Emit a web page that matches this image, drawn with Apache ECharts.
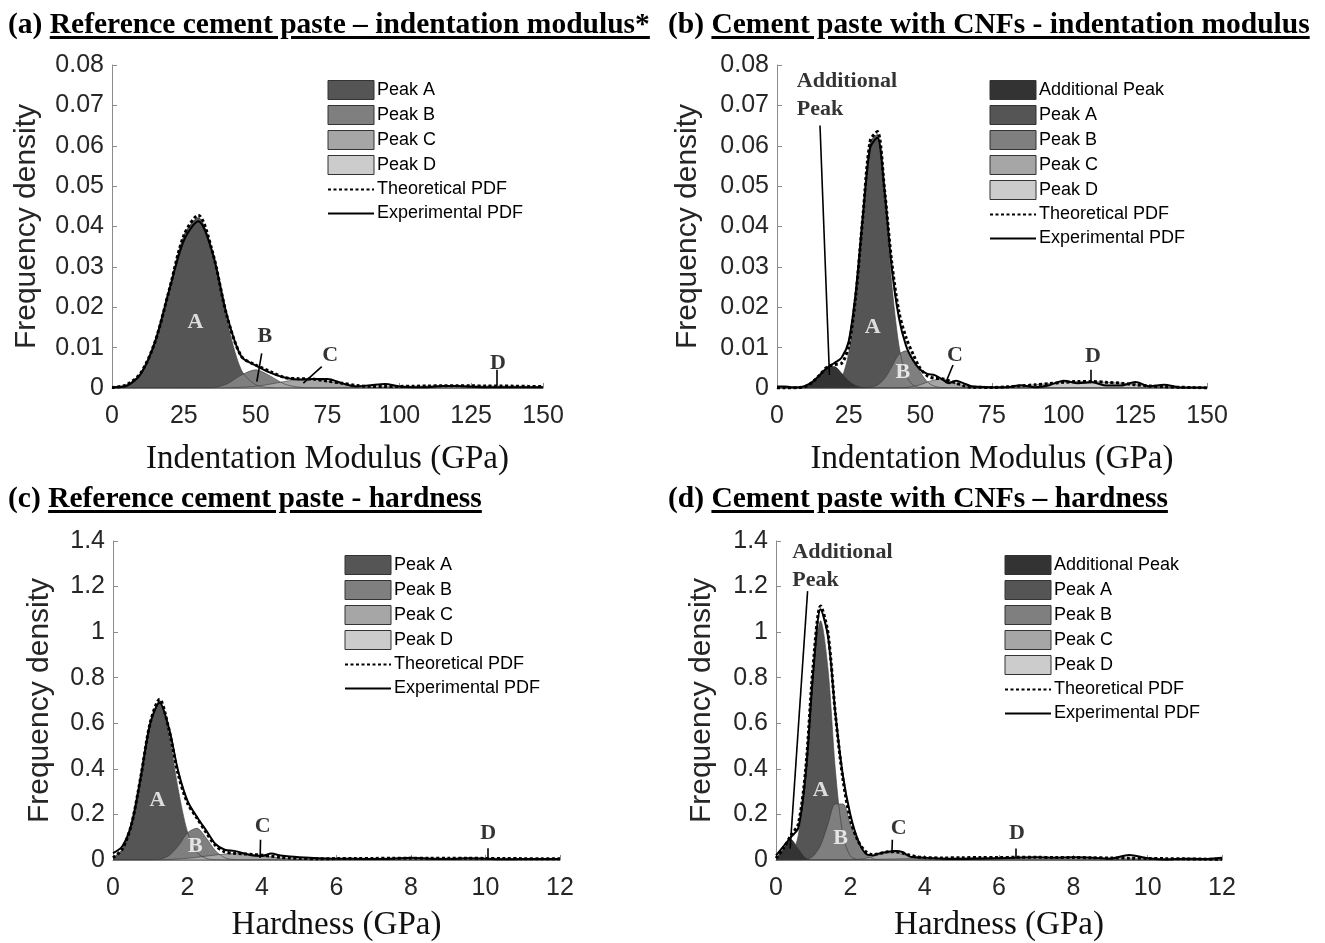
<!DOCTYPE html>
<html>
<head>
<meta charset="utf-8" />
<title>Nanoindentation deconvolution</title>
<script src="https://cdn.jsdelivr.net/npm/echarts@6/dist/echarts.min.js"></script>
<style>
  body { margin: 0; background: #fff; }
  #main { position: absolute; left: 0; top: 0; width: 1325px; height: 943px; }
  .ttl { position: absolute; font-family: "Liberation Serif", serif; font-weight: bold; font-size: 29.5px;
         line-height: 32px; color: #000; white-space: nowrap; }
  .ttl u { text-decoration-thickness: 2.5px; text-underline-offset: 3px; }
</style>
</head>
<body>
<div id="main"></div>
<div class="ttl" style="left:8px;top:7px">(a) <u>Reference cement paste – indentation modulus*</u></div>
<div class="ttl" style="left:668px;top:7px">(b) <u>Cement paste with CNFs - indentation modulus</u></div>
<div class="ttl" style="left:8px;top:481px">(c) <u>Reference cement paste - hardness</u></div>
<div class="ttl" style="left:668px;top:481px">(d) <u>Cement paste with CNFs – hardness</u></div>
<script type="text/javascript">
// ---- panel (a): reference paste, indentation modulus ----
var xModA = [0,5,10,15,20,25,30,35,40,45,50,55,60,65,70,75,80,85,90,95,100,105,110,115,120,125,130,135,140,145,150];
var aPeakA = [0.0001,0.0008,0.0037,0.0115,0.0245,0.0378,0.0422,0.0335,0.0168,0.0045,0.0008,0.0001,0,0,0,0,0,0,0,0,0,0,0,0,0,0,0,0,0,0,0];
var aPeakB = [0,0,0,0,0,0,0,0.0001,0.001,0.0032,0.0045,0.003,0.001,0.0002,0,0,0,0,0,0,0,0,0,0,0,0,0,0,0,0,0];
var aPeakC = [0,0,0,0,0,0,0,0,0.00004,0.00016,0.0004,0.00095,0.0016,0.0021,0.0022,0.0017,0.0011,0.0005,0.0002,0.0001,0,0,0,0,0,0,0,0,0,0,0];
var aPeakD = [0,0,0,0,0,0,0,0,0,0,0,0,0,0,0,0,0.0001,0.00015,0.0002,0.0003,0.0004,0.00045,0.0005,0.00055,0.00055,0.00055,0.0005,0.0005,0.00045,0.0004,0.00035];
var aTheo  = [0.0001,0.0008,0.0037,0.0115,0.0245,0.0378,0.0428,0.0336,0.0178,0.0079,0.0057,0.0041,0.0026,0.0023,0.0022,0.0017,0.0012,0.00065,0.0004,0.0004,0.0004,0.00045,0.0005,0.00055,0.00055,0.00055,0.0005,0.0005,0.00045,0.0004,0.00035];
var aExp   = [0.0002,0.0005,0.0035,0.0115,0.0245,0.0365,0.0413,0.0335,0.018,0.0078,0.0056,0.0038,0.0026,0.0021,0.0022,0.0022,0.0012,0.0004,0.0007,0.001,0.0004,0.0002,0.0002,0.0005,0.0005,0.0003,0.0002,0.0002,0.0002,0.0002,0.0002];

// ---- panel (b): paste with CNFs, indentation modulus ----
var xModB = [0,2.5,5,7.5,10,12.5,15,17.5,20,22.5,25,27.5,30,32.5,35,37.5,40,42.5,45,47.5,50,52.5,55,57.5,60,62.5,65,67.5,70,75,80,85,90,95,100,105,110,115,120,125,130,135,140,145,150];
var bPeakAdd = [0,0,0,0.0001,0.0004,0.0015,0.0033,0.0051,0.0053,0.0037,0.0018,0.0006,0.0001,0,0,0,0,0,0,0,0,0,0,0,0,0,0,0,0,0,0,0,0,0,0,0,0,0,0,0,0,0,0,0,0];
var bPeakA = [0,0,0,0,0,0,0,0.0001,0.0005,0.0024,0.0086,0.0224,0.0428,0.061,0.0628,0.0469,0.0261,0.0107,0.0032,0.0007,0.0001,0,0,0,0,0,0,0,0,0,0,0,0,0,0,0,0,0,0,0,0,0,0,0,0];
var bPeakB = [0,0,0,0,0,0,0,0,0,0,0,0,0,0.0002,0.0007,0.0023,0.0052,0.0083,0.0092,0.0072,0.0039,0.0015,0.0004,0.0001,0,0,0,0,0,0,0,0,0,0,0,0,0,0,0,0,0,0,0,0,0];
var bPeakC = [0,0,0,0,0,0,0,0,0,0,0,0,0,0,0,0,0,0,0.0001,0.0004,0.0008,0.0015,0.002,0.0022,0.0018,0.0012,0.0006,0.0002,0.0001,0,0,0,0,0,0,0,0,0,0,0,0,0,0,0,0];
var bPeakD = [0,0,0,0,0,0,0,0,0,0,0,0,0,0,0,0,0,0,0,0,0,0,0,0,0,0,0,0,0.0001,0.0001,0.0003,0.0005,0.0008,0.0011,0.0014,0.0016,0.0016,0.0014,0.0012,0.0008,0.0005,0.0003,0.0002,0.0001,0];
var bTheo  = [0,0,0,0.0001,0.0004,0.0015,0.0033,0.0052,0.0058,0.0061,0.0104,0.023,0.0429,0.0612,0.0635,0.0492,0.0313,0.019,0.0125,0.0083,0.0048,0.003,0.0024,0.0023,0.0018,0.0012,0.0006,0.0002,0.0002,0.0001,0.0003,0.0005,0.0008,0.0011,0.0014,0.0016,0.0016,0.0014,0.0012,0.0008,0.0005,0.0003,0.0002,0.0001,0];
var bExp   = [0.0004,0.0004,0.0002,0.0002,0.0006,0.0016,0.0033,0.005,0.0062,0.0075,0.0115,0.024,0.043,0.0595,0.062,0.049,0.03,0.0175,0.0105,0.0068,0.0045,0.0035,0.0032,0.0022,0.0012,0.0018,0.0012,0.0005,0.0003,0.0002,0.0002,0.0007,0.0002,0.0007,0.0018,0.0012,0.0014,0.0006,0.0006,0.0015,0.0004,0.0008,0.0002,0.0001,0.0001];

// ---- panel (c): reference paste, hardness ----
var xHardC = [0,0.25,0.5,0.75,1,1.25,1.5,1.75,2,2.25,2.5,2.75,3,3.25,3.5,3.75,4,4.25,4.5,4.75,5,5.5,6,6.5,7,7.5,8,8.5,9,9.5,10,10.5,11,11.5,12];
var cPeakA = [0.01,0.048,0.159,0.369,0.602,0.7,0.553,0.311,0.123,0.034,0.007,0.001,0,0,0,0,0,0,0,0,0,0,0,0,0,0,0,0,0,0,0,0,0,0,0];
var cPeakB = [0,0,0,0,0.0004,0.0035,0.019,0.061,0.119,0.139,0.097,0.041,0.01,0.0015,0.0001,0,0,0,0,0,0,0,0,0,0,0,0,0,0,0,0,0,0,0,0];
var cPeakC = [0,0,0,0,0.0004,0.001,0.0022,0.0043,0.0075,0.0118,0.017,0.022,0.026,0.028,0.027,0.024,0.019,0.0138,0.0091,0.0054,0.0029,0.0006,0.0001,0,0,0,0,0,0,0,0,0,0,0,0];
var cPeakD = [0,0,0,0,0,0,0,0,0,0,0,0,0,0,0,0,0.002,0.0025,0.003,0.0035,0.004,0.005,0.006,0.007,0.007,0.008,0.008,0.008,0.008,0.008,0.007,0.007,0.006,0.006,0.005];
var cTheo  = [0.01,0.048,0.159,0.369,0.603,0.705,0.574,0.376,0.25,0.185,0.121,0.064,0.036,0.0295,0.027,0.024,0.021,0.0163,0.0121,0.0089,0.0069,0.0056,0.0061,0.007,0.007,0.008,0.008,0.008,0.008,0.008,0.007,0.007,0.006,0.006,0.005];
var cExp   = [0.03,0.06,0.16,0.37,0.6,0.69,0.58,0.39,0.26,0.19,0.13,0.07,0.045,0.04,0.03,0.02,0.018,0.028,0.02,0.015,0.012,0.008,0.006,0.005,0.004,0.005,0.01,0.005,0.004,0.008,0.006,0.003,0.004,0.004,0.004];

// ---- panel (d): paste with CNFs, hardness ----
var xHardD = [0,0.2,0.4,0.6,0.8,1,1.2,1.4,1.6,1.8,2,2.2,2.4,2.6,2.8,3,3.2,3.4,3.6,3.8,4,4.5,5,5.5,6,6.5,7,7.5,8,8.5,9,9.5,10,10.5,11,11.5,12];
var dPeakAdd = [0.008,0.049,0.09,0.049,0.008,0.0003,0,0,0,0,0,0,0,0,0,0,0,0,0,0,0,0,0,0,0,0,0,0,0,0,0,0,0,0,0,0,0];
var dPeakA = [0,0.002,0.018,0.109,0.39,0.837,1.05,0.837,0.39,0.109,0.018,0.002,0,0,0,0,0,0,0,0,0,0,0,0,0,0,0,0,0,0,0,0,0,0,0,0,0];
var dPeakB = [0,0,0,0,0.003,0.017,0.065,0.158,0.246,0.246,0.158,0.08,0.03,0.006,0.001,0,0,0,0,0,0,0,0,0,0,0,0,0,0,0,0,0,0,0,0,0,0];
var dPeakC = [0,0,0,0,0,0,0,0,0,0,0.0007,0.0026,0.007,0.015,0.025,0.032,0.032,0.025,0.015,0.007,0.0026,0.0001,0,0,0,0,0,0,0,0,0,0,0,0,0,0,0];
var dPeakD = [0,0,0,0,0,0,0,0,0,0,0.001,0.0015,0.002,0.0025,0.003,0.004,0.005,0.006,0.0065,0.007,0.008,0.009,0.01,0.011,0.011,0.012,0.012,0.011,0.011,0.01,0.009,0.008,0.007,0.006,0.005,0.004,0.003];
var dTheo  = [0.008,0.051,0.108,0.158,0.401,0.854,1.115,0.995,0.636,0.355,0.178,0.086,0.039,0.0235,0.029,0.036,0.037,0.031,0.0215,0.014,0.0106,0.0091,0.01,0.011,0.011,0.012,0.012,0.011,0.011,0.01,0.009,0.008,0.007,0.006,0.005,0.004,0.003];
var dExp   = [0.02,0.06,0.1,0.14,0.38,0.82,1.1,0.98,0.64,0.37,0.2,0.09,0.03,0.02,0.03,0.035,0.04,0.035,0.015,0.012,0.01,0.006,0.004,0.006,0.008,0.01,0.012,0.01,0.012,0.01,0.006,0.022,0.008,0.002,0.006,0.004,0.01];

// peak letters and their pointer lines, in data units of each panel
// ('l' = two-line note anchored at its left-middle)
var notesA = [['A',29,0.0163,'#fff'],['B',53.2,0.0127],['C',75.9,0.0082],['D',134.3,0.0062]];
var ptrsA  = [[52.1,0.0086,50.4,0.0016],[73,0.0053,66.6,0.0012],[134,0.0045,134,0.0006]];
var notesB = [['Additional\nPeak',6.9,0.0725,null,'l'],['A',33.4,0.0151,'#fff'],['B',43.9,0.004,'#fff'],['C',62.1,0.0082],['D',110.2,0.0078]];
var ptrsB  = [[15,0.065,18.3,0.0032],[61.4,0.0057,58.8,0.0012],[109.4,0.0045,109.4,0.0016]];
var notesC = [['A',1.19,0.263,'#fff'],['B',2.21,0.06,'#fff'],['C',4.02,0.147],['D',10.07,0.118]];
var ptrsC  = [[3.96,0.089,3.95,0.009],[10.05,0.052,10.05,0.001]];
var notesD = [['Additional\nPeak',0.44,1.29,null,'l'],['A',1.2,0.307,'#fff'],['B',1.74,0.096,'#fff'],['C',3.3,0.14],['D',6.48,0.118]];
var ptrsD  = [[0.85,1.18,0.38,0.05],[3.13,0.089,3.12,0.03],[6.45,0.05,6.45,0.009]];

var SANS = '"Liberation Sans", Arial, sans-serif';
var SERIF = '"Liberation Serif", "Times New Roman", serif';
var peakColors = {
  'Additional Peak': '#333333',
  'Peak A': '#555555',
  'Peak B': '#7f7f7f',
  'Peak C': '#a6a6a6',
  'Peak D': '#cccccc'
};

function pairs(xs, ys) {
  return xs.map(function (x, i) { return [x, ys[i]]; });
}

function buildSeries(g, xs, peaks, theo, expd, notes, ptrs) {
  var out = [];
  peaks.forEach(function (p) {
    out.push({
      type: 'line', name: p[0], xAxisIndex: g, yAxisIndex: g,
      data: pairs(xs, p[1]), smooth: 0.3, symbol: 'none', z: 2,
      lineStyle: { color: '#3a3a3a', width: 0.6 },
      itemStyle: { color: peakColors[p[0]] },
      areaStyle: { color: peakColors[p[0]], opacity: 1 }
    });
  });
  out.push({
    type: 'line', name: 'Theoretical PDF', xAxisIndex: g, yAxisIndex: g,
    data: pairs(xs, theo), smooth: 0.3, symbol: 'none', z: 3,
    itemStyle: { color: '#000' },
    lineStyle: { color: '#000', width: 3, type: [3, 2.5] }
  });
  out.push({
    type: 'line', name: 'Experimental PDF', xAxisIndex: g, yAxisIndex: g,
    data: pairs(xs, expd), smooth: 0.3, symbol: 'none', z: 4,
    itemStyle: { color: '#000' },
    lineStyle: { color: '#000', width: 2 }
  });
  out.push({
    type: 'scatter', name: 'notes' + g, xAxisIndex: g, yAxisIndex: g, z: 5,
    symbolSize: 1, itemStyle: { color: 'rgba(0,0,0,0)' }, silent: true,
    data: notes.map(function (n) {
      return {
        value: [n[1], n[2]], name: n[0],
        label: {
          show: true, position: 'inside', formatter: '{b}',
          color: n[3] || '#000', fontFamily: SERIF, fontWeight: 'bold', fontSize: 22,
          align: n[4] === 'l' ? 'left' : 'center', verticalAlign: 'middle',
          lineHeight: 28
        }
      };
    }),
    markLine: {
      silent: true, symbol: ['none', 'none'], animation: false,
      label: { show: false },
      lineStyle: { color: '#000', width: 1.6, type: 'solid' },
      data: ptrs.map(function (p) { return [{ coord: [p[0], p[1]] }, { coord: [p[2], p[3]] }]; })
    }
  });
  return out;
}

function legendFor(left, top, names) {
  return {
    left: left, top: top, orient: 'vertical', padding: 0,
    itemWidth: 46, itemHeight: 19, itemGap: 5, selectedMode: false,
    textStyle: { fontFamily: SANS, fontSize: 18, lineHeight: 19, color: '#000', padding: [0, 0, 0, -2] },
    data: names.map(function (n) {
      if (peakColors[n]) {
        return { name: n, icon: 'rect', itemStyle: { color: peakColors[n], borderColor: '#333', borderWidth: 1 } };
      }
      // line entries: keep the line, hide the marker
      return { name: n, itemStyle: { opacity: 0 } };
    })
  };
}

function xAxisFor(g, max, interval, name, gap) {
  return {
    gridIndex: g, type: 'value', min: 0, max: max, interval: interval,
    name: name, nameLocation: 'middle', nameGap: gap,
    nameTextStyle: { fontFamily: SERIF, fontSize: 33, color: '#111' },
    axisLine: { show: true, onZero: false, lineStyle: { color: '#8c8c8c', width: 1 } },
    axisTick: { show: true, inside: true, length: 5, lineStyle: { color: '#8c8c8c' } },
    axisLabel: { fontFamily: SANS, fontSize: 25, color: '#262626', margin: 16 },
    splitLine: { show: false }
  };
}

function yAxisFor(g, max, interval, gap) {
  return {
    gridIndex: g, type: 'value', min: 0, max: max, interval: interval,
    name: 'Frequency density', nameLocation: 'middle', nameGap: gap,
    nameTextStyle: { fontFamily: SANS, fontSize: 30, color: '#262626' },
    axisLine: { show: true, lineStyle: { color: '#8c8c8c', width: 1 } },
    axisTick: { show: true, inside: true, length: 5, lineStyle: { color: '#8c8c8c' } },
    axisLabel: { fontFamily: SANS, fontSize: 25, color: '#262626', margin: 8 },
    splitLine: { show: false }
  };
}

var fourPeaks = ['Peak A', 'Peak B', 'Peak C', 'Peak D', 'Theoretical PDF', 'Experimental PDF'];
var fivePeaks = ['Additional Peak'].concat(fourPeaks);

var series = []
  .concat(buildSeries(0, xModA, [['Peak A', aPeakA], ['Peak B', aPeakB], ['Peak C', aPeakC], ['Peak D', aPeakD]], aTheo, aExp, notesA, ptrsA))
  .concat(buildSeries(1, xModB, [['Peak A', bPeakA], ['Peak B', bPeakB], ['Peak C', bPeakC], ['Peak D', bPeakD], ['Additional Peak', bPeakAdd]], bTheo, bExp, notesB, ptrsB))
  .concat(buildSeries(2, xHardC, [['Peak A', cPeakA], ['Peak B', cPeakB], ['Peak C', cPeakC], ['Peak D', cPeakD]], cTheo, cExp, notesC, ptrsC))
  .concat(buildSeries(3, xHardD, [['Peak A', dPeakA], ['Peak B', dPeakB], ['Peak C', dPeakC], ['Peak D', dPeakD], ['Additional Peak', dPeakAdd]], dTheo, dExp, notesD, ptrsD));

var chart = echarts.init(document.getElementById('main'), null, { renderer: 'canvas' });
chart.setOption({
  animation: false,
  backgroundColor: '#fff',
  grid: [
    { left: 112, top: 65, width: 431, height: 323 },
    { left: 777, top: 65, width: 430, height: 323 },
    { left: 113, top: 541, width: 447, height: 321 },
    { left: 776, top: 541, width: 446, height: 321 }
  ],
  xAxis: [
    xAxisFor(0, 150, 25, 'Indentation Modulus (GPa)', 55),
    xAxisFor(1, 150, 25, 'Indentation Modulus (GPa)', 55),
    xAxisFor(2, 12, 2, 'Hardness (GPa)', 49),
    xAxisFor(3, 12, 2, 'Hardness (GPa)', 49)
  ],
  yAxis: [
    yAxisFor(0, 0.08, 0.01, 70),
    yAxisFor(1, 0.08, 0.01, 74),
    yAxisFor(2, 1.4, 0.2, 58),
    yAxisFor(3, 1.4, 0.2, 59)
  ],
  legend: [
    legendFor(327, 80, fourPeaks),
    legendFor(989, 80, fivePeaks),
    legendFor(344, 555, fourPeaks),
    legendFor(1004, 555, fivePeaks)
  ],
  series: series
});
</script>
</body>
</html>
